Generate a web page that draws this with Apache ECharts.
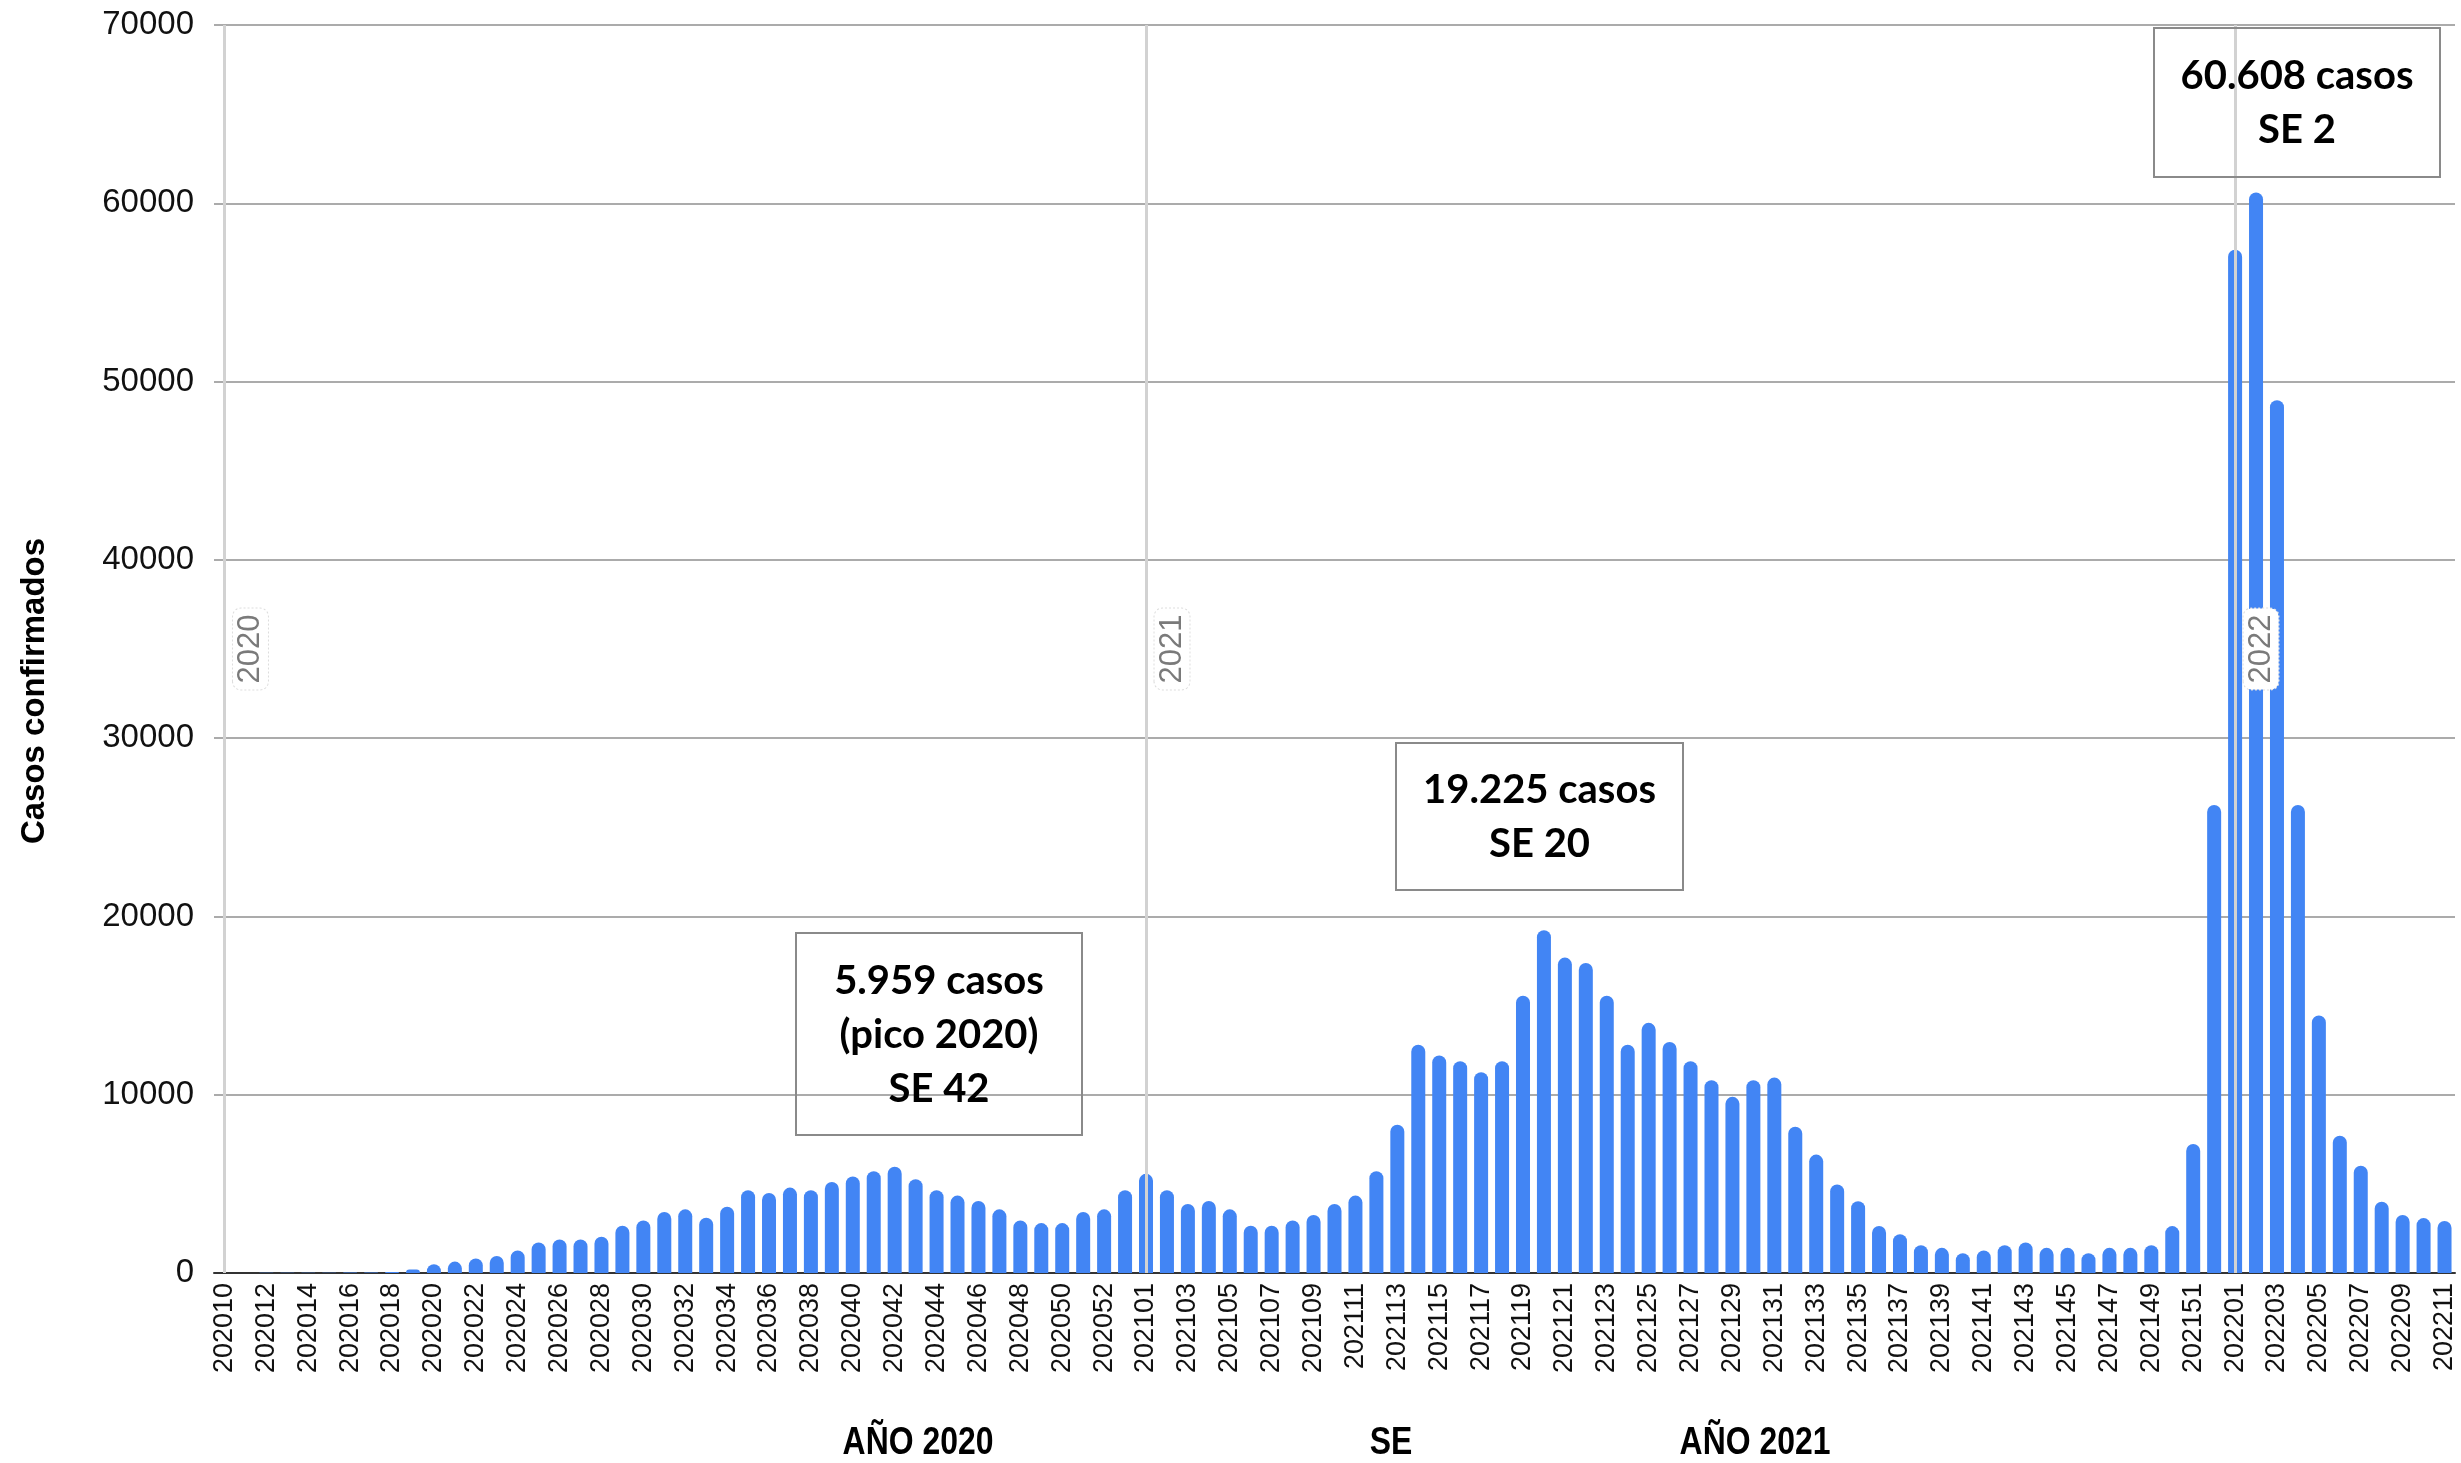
<!DOCTYPE html>
<html>
<head>
<meta charset="utf-8">
<script src="https://cdn.jsdelivr.net/npm/echarts/dist/echarts.min.js"></script>
<style>
html,body{margin:0;padding:0;background:#fff;}
#c{width:2461px;height:1463px;}
</style>
</head>
<body>
<div id="c"></div>
<script>
// ---- DATA ----
const weeks = [
 '202010','202011','202012','202013','202014','202015','202016','202017','202018','202019',
 '202020','202021','202022','202023','202024','202025','202026','202027','202028','202029',
 '202030','202031','202032','202033','202034','202035','202036','202037','202038','202039',
 '202040','202041','202042','202043','202044','202045','202046','202047','202048','202049',
 '202050','202051','202052','202053',
 '202101','202102','202103','202104','202105','202106','202107','202108','202109','202110',
 '202111','202112','202113','202114','202115','202116','202117','202118','202119','202120',
 '202121','202122','202123','202124','202125','202126','202127','202128','202129','202130',
 '202131','202132','202133','202134','202135','202136','202137','202138','202139','202140',
 '202141','202142','202143','202144','202145','202146','202147','202148','202149','202150',
 '202151','202152',
 '202201','202202','202203','202204','202205','202206','202207','202208','202209','202210','202211'
];
const cases = [
 2,5,10,15,20,20,25,30,50,190,
 490,640,810,960,1260,1710,1880,1880,2030,2650,
 2950,3420,3570,3100,3720,4640,4490,4790,4640,5110,
 5410,5710,5959,5260,4640,4340,4040,3570,2950,2800,
 2800,3420,3570,4640,
 5560,4640,3870,4040,3570,2650,2650,2950,3250,3870,
 4340,5710,8320,12800,12200,11880,11260,11880,15550,19225,
 17690,17390,15550,12800,14030,12960,11880,10810,9880,10810,
 10960,8200,6640,4960,4030,2640,2180,1560,1410,1110,
 1260,1560,1710,1410,1410,1110,1410,1410,1560,2630,
 7240,26250,
 57400,60608,48950,26250,14450,7700,6020,4000,3250,3080,2920
];
const yMin = 0, yMax = 70000, yStep = 10000;
const yearLineWeeks = ['202010','202101','202201'];
const yearLabels = ['2020','2021','2022'];
const annotationTexts = [
 ['5.959 casos','(pico 2020)','SE 42'],
 ['19.225 casos','SE 20'],
 ['60.608 casos','SE 2']
];
const bottomTitles = ['AÑO 2020','SE','AÑO 2021'];
const yTitle = 'Casos confirmados';

// ---- CHART ----
const chart = echarts.init(document.getElementById('c'), null, {renderer:'canvas'});
chart.setOption({
  animation:false,
  backgroundColor:'#fff',
  grid:{left:214,right:6,top:25,bottom:190,containLabel:false},
  xAxis:{
    type:'category', data:weeks, boundaryGap:true,
    axisLine:{show:true,lineStyle:{color:'#333',width:2}},
    axisTick:{show:false},
    splitLine:{show:false},
    axisLabel:{interval:1,rotate:90,fontSize:27,color:'#111',fontFamily:'Liberation Sans',margin:10}
  },
  yAxis:{
    type:'value', min:yMin, max:yMax, interval:yStep,
    axisLine:{show:false}, axisTick:{show:false},
    axisLabel:{fontSize:33,color:'#111',fontFamily:'Liberation Sans',margin:20,
      formatter:function(v){return String(v);}},
    splitLine:{show:true,lineStyle:{color:'#ababab',width:2}}
  },
  series:[
    {
      type:'line', data:[], z:1, silent:true,
      markLine:{
        symbol:'none', silent:true, animation:false,
        label:{show:false},
        lineStyle:{color:'#d2d2d2',width:3,type:'solid'},
        data:yearLineWeeks.map(w=>({xAxis:w}))
      }
    },
    {
      type:'bar', data:cases, z:2, barWidth:14,
      itemStyle:{color:'#4285F4',borderRadius:[7,7,0,0]}
    }
  ]
});

// ---- GRAPHICS (labels, annotations, titles) ----
const gfx = [];
yearLineWeeks.forEach((w,k)=>{
  const p = chart.convertToPixel({gridIndex:0},[w,(yMin+yMax)/2]);
  gfx.push({
    type:'text', x:p[0]+26, y:p[1], rotation:Math.PI/2, z:100,
    style:{text:yearLabels[k], fill:'#7a7a7a', font:'31px "Liberation Sans"',
      align:'center', verticalAlign:'middle', backgroundColor:'#fff',
      padding:[2,6], borderRadius:8, borderColor:'#dddddd', borderWidth:1, borderDash:[2,2]}
  });
});
const boxes = [
  {x:796,y:933,w:286,h:202},
  {x:1396,y:743,w:287,h:147},
  {x:2154,y:28,w:286,h:149}
];
boxes.forEach((b,k)=>{
  gfx.push({type:'rect', z:100, shape:{x:b.x,y:b.y,width:b.w,height:b.h},
    style:{fill:'rgba(0,0,0,0)', stroke:'#8a8a8a', lineWidth:2}});
  gfx.push({type:'text', z:101, x:b.x+b.w/2, y:b.y+b.h/2+1,
    style:{text:annotationTexts[k].join('\n'), fill:'#000', font:'bold 40px Lato',
      align:'center', verticalAlign:'middle', lineHeight:54}});
});
const titlePos = [[918,1444],[1391,1444],[1755,1444]];
bottomTitles.forEach((t,k)=>{
  gfx.push({type:'text', z:100, x:titlePos[k][0], y:titlePos[k][1], scaleX:0.84,
    style:{text:t, fill:'#000', font:'bold 38px "Liberation Sans"', align:'center', verticalAlign:'middle'}});
});
gfx.push({type:'text', z:100, x:35, y:691, rotation:Math.PI/2,
  style:{text:yTitle, fill:'#000', font:'bold 33px "Liberation Sans"', align:'center', verticalAlign:'middle'}});
chart.setOption({graphic:gfx});
</script>
</body>
</html>
